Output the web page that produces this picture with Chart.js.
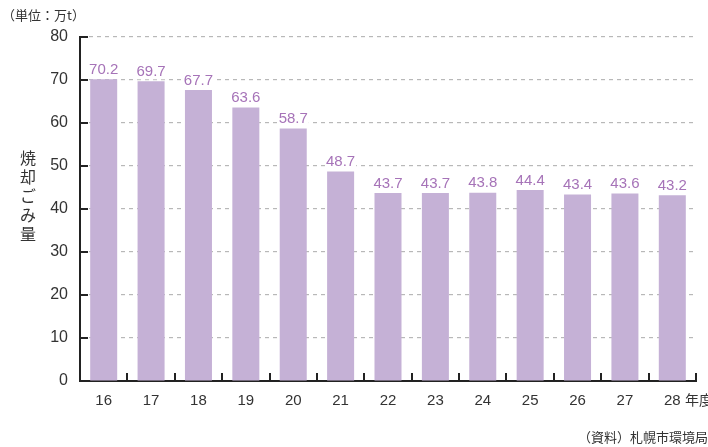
<!DOCTYPE html>
<html>
<head>
<meta charset="utf-8">
<script src="https://cdn.jsdelivr.net/npm/chart.js@4/dist/chart.umd.min.js"></script>
<style>
  html, body { margin: 0; padding: 0; background: #fff; }
  #wrap { width: 708px; height: 447px; position: relative; }
</style>
</head>
<body>
<div id="wrap"><canvas id="chart" width="708" height="447"></canvas></div>
<script>
// 年度
const years = ['16', '17', '18', '19', '20', '21', '22', '23', '24', '25', '26', '27', '28'];
// 焼却ごみ量（万t）
const burned = [70.2, 69.7, 67.7, 63.6, 58.7, 48.7, 43.7, 43.7, 43.8, 44.4, 43.4, 43.6, 43.2];
const yTicks = [0, 10, 20, 30, 40, 50, 60, 70, 80];

const jpFont = '"Noto Sans CJK JP", sans-serif';
const numFont = '"Liberation Sans", Arial, sans-serif';

// 目盛り線（内向き）・値ラベル・注記
const extrasPlugin = {
    id: 'extras',
    afterDraw(chart) {
        const ctx = chart.ctx;
        const x = chart.scales.x;
        const y = chart.scales.y;
        const area = chart.chartArea;
        ctx.save();

        // y軸の目盛り（右向き）
        ctx.strokeStyle = '#222';
        ctx.lineWidth = 2;
        yTicks.forEach(v => {
            const py = Math.round(y.getPixelForValue(v));
            ctx.beginPath();
            ctx.moveTo(area.left, py);
            ctx.lineTo(area.left + 8, py);
            ctx.stroke();
        });

        // x軸の目盛り（上向き、カテゴリの境目）
        const step = (area.right - area.left) / years.length;
        for (let i = 1; i <= years.length; i++) {
            const px = Math.round(x.getPixelForValue(i - 1) + step / 2);
            ctx.beginPath();
            ctx.moveTo(px, area.bottom);
            ctx.lineTo(px, area.bottom - 8);
            ctx.stroke();
        }

        // 値ラベル（白地つき）
        ctx.font = '15px ' + numFont;
        ctx.textAlign = 'center';
        ctx.textBaseline = 'bottom';
        chart.getDatasetMeta(0).data.forEach((bar, i) => {
            const txt = burned[i].toFixed(1);
            const w = ctx.measureText(txt).width;
            ctx.fillStyle = '#fff';
            ctx.fillRect(bar.x - w / 2 - 1, bar.y - 18, w + 2, 16);
            ctx.fillStyle = '#a673b8';
            ctx.fillText(txt, bar.x, bar.y - 2);
        });

        // 単位
        ctx.fillStyle = '#333';
        ctx.textAlign = 'left';
        ctx.textBaseline = 'middle';
        ctx.font = '13px ' + jpFont;
        ctx.fillText('（単位：万t）', 2, 15);

        // 縦書きタイトル
        ctx.font = '16px ' + jpFont;
        ctx.textAlign = 'center';
        const title = '焼却ごみ量';
        for (let i = 0; i < title.length; i++) {
            ctx.fillText(title[i], 28, 158 + i * 19);
        }

        // 年度
        ctx.font = '14px ' + jpFont;
        ctx.textAlign = 'left';
        ctx.fillText('年度', 685, 400);

        // 資料
        ctx.font = '13px ' + jpFont;
        ctx.textAlign = 'right';
        ctx.fillText('（資料）札幌市環境局', 708, 437);

        ctx.restore();
    }
};

new Chart(document.getElementById('chart').getContext('2d'), {
    type: 'bar',
    data: {
        labels: years,
        datasets: [{
            data: burned,
            backgroundColor: '#c5b1d6',
            categoryPercentage: 1,
            barPercentage: 0.57
        }]
    },
    options: {
        responsive: false,
        animation: false,
        devicePixelRatio: 1,
        layout: { padding: { left: 0, right: 12, top: 37, bottom: 0 } },
        plugins: {
            legend: { display: false },
            tooltip: { enabled: false }
        },
        scales: {
            x: {
                grid: { display: false, drawTicks: false },
                border: { color: '#222', width: 2 },
                ticks: {
                    color: '#333',
                    font: { size: 15, family: numFont },
                    padding: 11
                },
                afterFit(scale) { scale.height = 66; }
            },
            y: {
                min: 0,
                max: 80,
                afterBuildTicks(scale) { scale.ticks = yTicks.map(v => ({ value: v })); },
                grid: {
                    color: ctx => ctx.tick.value === 0 ? 'rgba(0,0,0,0)' : '#b8b8b8',
                    lineWidth: 1.2,
                    drawTicks: false
                },
                border: { color: '#222', width: 2, dash: [4, 4] },
                ticks: {
                    color: '#333',
                    font: { size: 16, family: numFont },
                    padding: 12
                },
                afterFit(scale) { scale.width = 80; }
            }
        }
    },
    plugins: [extrasPlugin]
});
</script>
</body>
</html>
